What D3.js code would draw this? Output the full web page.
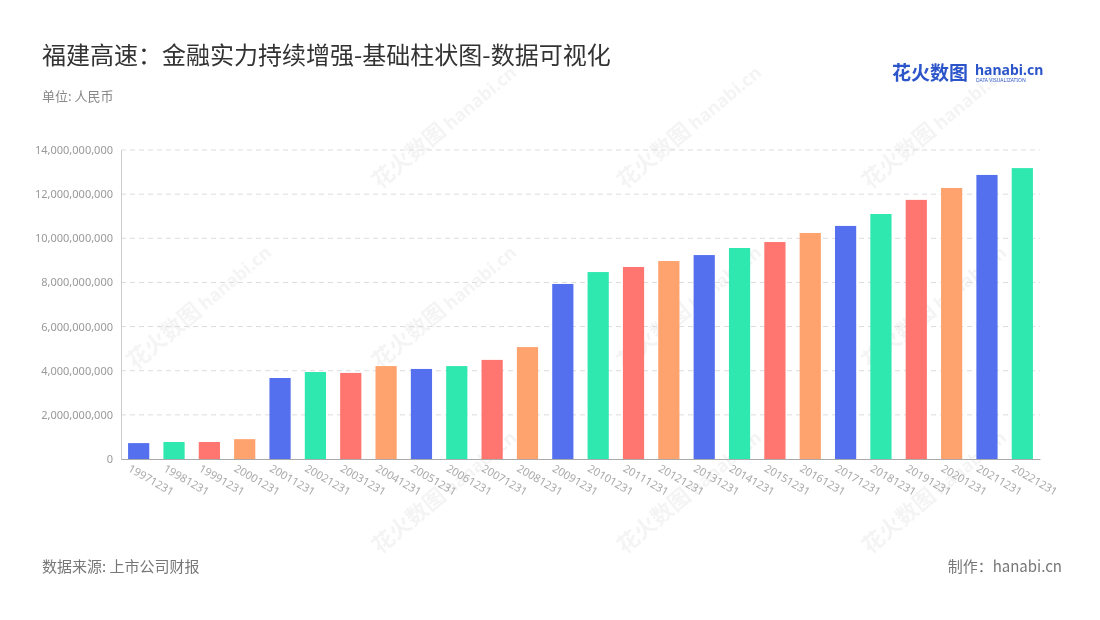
<!DOCTYPE html>
<html><head><meta charset="utf-8">
<script src="https://cdn.jsdelivr.net/npm/d3@7"></script>
<style>body{margin:0;background:#fff;font-family:"Noto Sans CJK SC","Noto Sans",sans-serif}</style>
</head><body>
<svg id="c" width="1100" height="620"></svg>
<script>
"use strict";

const categories = ["19971231","19981231","19991231","20001231","20011231","20021231","20031231","20041231","20051231","20061231","20071231","20081231","20091231","20101231","20111231","20121231","20131231","20141231","20151231","20161231","20171231","20181231","20191231","20201231","20211231","20221231"];
const values = [0.72e9,0.77e9,0.77e9,0.9e9,3.67e9,3.94e9,3.9e9,4.21e9,4.08e9,4.21e9,4.49e9,5.07e9,7.93e9,8.47e9,8.7e9,8.97e9,9.24e9,9.56e9,9.83e9,10.24e9,10.56e9,11.1e9,11.74e9,12.28e9,12.87e9,13.18e9];
const yTicks = [0,2e9,4e9,6e9,8e9,10e9,12e9,14e9];
const palette = ["#5470ee","#2ee8b0","#ff7570","#ffa36e"];

const M = { left: 121, right: 1040, top: 150, bottom: 459 };
const svg = d3.select("#c");

// watermarks
const wm = svg.append("g").attr("opacity", 0.045).attr("fill", "#000");
[[380,190],[625,190],[870,190],[135,370],[380,370],[625,370],[870,370],[380,555],[625,555],[870,555]].forEach(([x, y]) => {
    const t = wm.append("g").attr("transform", `translate(${x},${y}) rotate(-40)`);
    t.append("text").attr("font-size", 22).attr("font-weight", "bold").text("花火数图");
    t.append("text").attr("x", 92).attr("font-size", 18).attr("font-weight", "bold").attr("font-family", "Noto Sans").text("hanabi.cn");
});

const x = d3.scaleBand().domain(categories).range([M.left, M.right]).paddingInner(0.4).paddingOuter(0.2);
const y = d3.scaleLinear().domain([0, 14e9]).range([M.bottom, M.top]);

// grid
svg.append("g").selectAll("line").data(yTicks.filter(d => d > 0)).enter().append("line")
    .attr("x1", M.left).attr("x2", M.right).attr("y1", d => y(d)).attr("y2", d => y(d))
    .attr("stroke", "#dcdcdc").attr("stroke-dasharray", "5,4");

const yAxis = svg.append("g").attr("transform", `translate(${M.left},0)`)
    .call(d3.axisLeft(y).tickValues(yTicks).tickFormat(d3.format(",")).tickSize(0).tickPadding(8));
yAxis.select(".domain").attr("stroke", "#ccc");
yAxis.selectAll("text").attr("fill", "#999").attr("font-size", 11).attr("font-family", "Noto Sans");

svg.append("g").selectAll("rect").data(values).enter().append("rect")
    .attr("x", (d, i) => x(categories[i])).attr("width", x.bandwidth())
    .attr("y", d => y(d)).attr("height", d => y(0) - y(d))
    .attr("fill", (d, i) => palette[i % 4]);

const xAxis = svg.append("g").attr("transform", `translate(0,${M.bottom})`)
    .call(d3.axisBottom(x).tickSize(0).tickPadding(6));
xAxis.select(".domain").attr("stroke", "#aaa");
xAxis.selectAll("text").attr("fill", "#aaa").attr("font-size", 11).attr("font-family", "Noto Sans")
    .attr("text-anchor", "start").attr("transform", "rotate(30) translate(-4,2)");

svg.append("text").attr("x", 42).attr("y", 64).attr("font-size", 24).attr("fill", "#333").text("福建高速：金融实力持续增强-基础柱状图-数据可视化");
svg.append("text").attr("x", 42).attr("y", 101).attr("font-size", 13).attr("fill", "#888").text("单位: 人民币");
svg.append("text").attr("x", 42).attr("y", 572).attr("font-size", 15).attr("fill", "#777").text("数据来源: 上市公司财报");
svg.append("text").attr("x", 1062).attr("y", 572).attr("font-size", 15).attr("fill", "#777").attr("text-anchor", "end").text("制作：hanabi.cn");

// logo
svg.append("text").attr("x", 892).attr("y", 80).attr("font-size", 19).attr("font-weight", "bold").attr("fill", "#2b55c9").text("花火数图");
svg.append("text").attr("x", 975).attr("y", 75).attr("font-size", 14).attr("font-weight", "bold").attr("fill", "#2b55c9").attr("font-family", "Noto Sans").text("hanabi.cn");
svg.append("text").attr("x", 976).attr("y", 82).attr("font-size", 5).attr("fill", "#2b55c9").attr("font-family", "Noto Sans").text("DATA VISUALIZATION");
</script>
</body></html>
